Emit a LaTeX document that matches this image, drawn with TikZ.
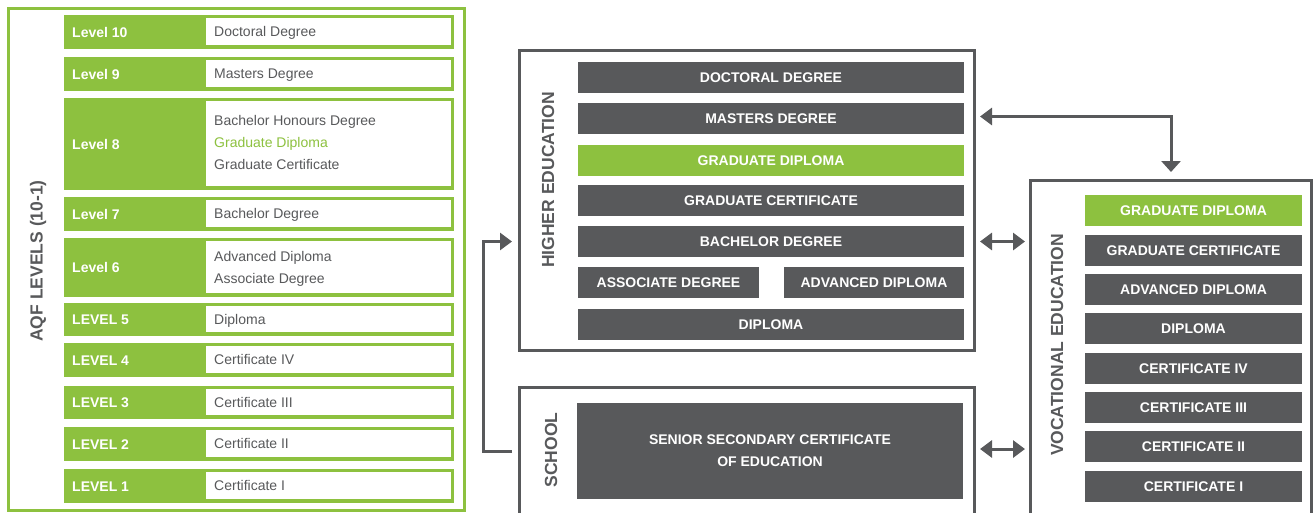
\documentclass[tikz,border=0pt]{standalone}
\usepackage{fontspec}
\setmainfont{Liberation Sans}
\usetikzlibrary{arrows.meta}
\definecolor{aqfgreen}{RGB}{141,193,63}
\definecolor{aqfgray}{RGB}{88,89,91}
\begin{document}
\begin{tikzpicture}[x=1pt,y=-1pt,
 lvrow/.style={fill=aqfgreen, draw=none, anchor=north west, inner sep=0pt, outer sep=0pt, minimum width=390pt},
 lvwhite/.style={fill=white, draw=none, anchor=north west, inner sep=0pt, outer sep=0pt, minimum width=245pt},
 lvlabel/.style={anchor=west, inner sep=0pt, text=white, text height=10pt, text depth=0pt, font=\fontsize{14}{16}\selectfont\bfseries},
 qtext/.style={anchor=west, inner sep=0pt, text=aqfgray, text height=10pt, text depth=0pt, font=\fontsize{14}{22}\selectfont},
 qtextm/.style={anchor=west, inner sep=0pt, text=aqfgray, align=left, font=\fontsize{14}{22}\selectfont},
 bar/.style={fill=aqfgray, anchor=north west, inner sep=0pt, outer sep=0pt, text=white, minimum height=31pt, font=\fontsize{14}{22}\selectfont\bfseries, align=center},
 gbar/.style={bar, fill=aqfgreen},
 frame/.style={draw=aqfgray, line width=3pt, anchor=north west, inner sep=0pt, outer sep=0pt},
 side/.style={rotate=90, text=aqfgray, font=\fontsize{17.5}{20}\selectfont\bfseries, inner sep=0pt},
 conn/.style={draw=aqfgray, line width=3pt},
 tipA/.tip={Triangle[length=12pt,width=17pt]}
]
\useasboundingbox (0,0) rectangle (1314,512);
\clip (0,0) rectangle (1314,512);

% ---------------- AQF levels panel ----------------
\node[draw=aqfgreen, line width=3pt, anchor=north west, inner sep=0pt, outer sep=0pt,
      minimum width=456pt, minimum height=501.5pt] (aqf) at (8.5,8.5) {};
\node[side] (aqflab) at (38,261) {AQF LEVELS (10-1)};

% rows: green band + white inset
\node[lvrow, minimum height=34pt] (r10) at (64,15) {};
\node[lvwhite, minimum height=27pt] (w10) at (206,18) {};
\node[lvlabel] (l10) at ([xshift=8pt]r10.west) {Level 10};
\node[qtext] (q10) at ([xshift=8pt]w10.west) {Doctoral Degree};

\node[lvrow, minimum height=34pt] (r9) at (64,57) {};
\node[lvwhite, minimum height=27pt] (w9) at (206,60) {};
\node[lvlabel] (l9) at ([xshift=8pt]r9.west) {Level 9};
\node[qtext] (q9) at ([xshift=8pt]w9.west) {Masters Degree};

\node[lvrow, minimum height=92pt] (r8) at (64,98) {};
\node[lvwhite, minimum height=85pt] (w8) at (206,101) {};
\node[lvlabel] (l8) at ([xshift=8pt]r8.west) {Level 8};
\node[qtextm] (q8) at ([xshift=8pt,yshift=1pt]w8.west) {Bachelor Honours Degree\\\textcolor{aqfgreen}{Graduate Diploma}\\Graduate Certificate};

\node[lvrow, minimum height=34pt] (r7) at (64,197) {};
\node[lvwhite, minimum height=27pt] (w7) at (206,200) {};
\node[lvlabel] (l7) at ([xshift=8pt]r7.west) {Level 7};
\node[qtext] (q7) at ([xshift=8pt]w7.west) {Bachelor Degree};

\node[lvrow, minimum height=59pt] (r6) at (64,238) {};
\node[lvwhite, minimum height=52pt] (w6) at (206,241) {};
\node[lvlabel] (l6) at ([xshift=8pt]r6.west) {Level 6};
\node[qtextm] (q6) at ([xshift=8pt,yshift=-2pt]w6.west) {Advanced Diploma\\Associate Degree};

\node[lvrow, minimum height=33pt] (r5) at (64,303) {};
\node[lvwhite, minimum height=26pt] (w5) at (206,306) {};
\node[lvlabel] (l5) at ([xshift=8pt]r5.west) {LEVEL 5};
\node[qtext] (q5) at ([xshift=8pt]w5.west) {Diploma};

\node[lvrow, minimum height=34pt] (r4) at (64,343) {};
\node[lvwhite, minimum height=27pt] (w4) at (206,346) {};
\node[lvlabel] (l4) at ([xshift=8pt]r4.west) {LEVEL 4};
\node[qtext] (q4) at ([xshift=8pt]w4.west) {Certificate IV};

\node[lvrow, minimum height=33pt] (r3) at (64,386) {};
\node[lvwhite, minimum height=26pt] (w3) at (206,389) {};
\node[lvlabel] (l3) at ([xshift=8pt]r3.west) {LEVEL 3};
\node[qtext] (q3) at ([xshift=8pt]w3.west) {Certificate III};

\node[lvrow, minimum height=34pt] (r2) at (64,427) {};
\node[lvwhite, minimum height=27pt] (w2) at (206,430) {};
\node[lvlabel] (l2) at ([xshift=8pt]r2.west) {LEVEL 2};
\node[qtext] (q2) at ([xshift=8pt]w2.west) {Certificate II};

\node[lvrow, minimum height=34pt] (r1) at (64,469) {};
\node[lvwhite, minimum height=27pt] (w1) at (206,472) {};
\node[lvlabel] (l1) at ([xshift=8pt]r1.west) {LEVEL 1};
\node[qtext] (q1) at ([xshift=8pt]w1.west) {Certificate I};

% ---------------- Higher education ----------------
\node[frame, minimum width=455pt, minimum height=300pt] (heb) at (519.5,50.5) {};
\node[side] (heblab) at (548,180) {HIGHER EDUCATION};
\node[bar, minimum width=386pt] (hdoc) at (578,62) {DOCTORAL DEGREE};
\node[bar, minimum width=386pt] (hmas) at (578,103) {MASTERS DEGREE};
\node[gbar, minimum width=386pt] (hgd) at (578,145) {GRADUATE DIPLOMA};
\node[bar, minimum width=386pt] (hgc) at (578,185) {GRADUATE CERTIFICATE};
\node[bar, minimum width=386pt] (hbach) at (578,226) {BACHELOR DEGREE};
\node[bar, minimum width=181pt] (hass) at (578,267) {ASSOCIATE DEGREE};
\node[bar, minimum width=180pt] (hadv) at (784,267) {ADVANCED DIPLOMA};
\node[bar, minimum width=386pt] (hdip) at (578,309) {DIPLOMA};

% ---------------- School ----------------
\node[frame, minimum width=455pt, minimum height=127pt] (sch) at (519.5,387.5) {};
\node[side] (schlab) at (551,450) {SCHOOL};
\node[bar, minimum width=386pt, minimum height=96pt] (ssce) at (577,403) {SENIOR SECONDARY CERTIFICATE\\OF EDUCATION};

% ---------------- Vocational education ----------------
\node[frame, minimum width=281pt, minimum height=336pt] (voc) at (1030.5,180.5) {};
\node[side] (voclab) at (1057,345) {VOCATIONAL EDUCATION};
\node[gbar, minimum width=217pt] (vgd) at (1085,195) {GRADUATE DIPLOMA};
\node[bar, minimum width=217pt] (vgc) at (1085,235) {GRADUATE CERTIFICATE};
\node[bar, minimum width=217pt] (vadv) at (1085,274) {ADVANCED DIPLOMA};
\node[bar, minimum width=217pt] (vdip) at (1085,313) {DIPLOMA};
\node[bar, minimum width=217pt] (vc4) at (1085,353) {CERTIFICATE IV};
\node[bar, minimum width=217pt] (vc3) at (1085,392) {CERTIFICATE III};
\node[bar, minimum width=217pt] (vc2) at (1085,431) {CERTIFICATE II};
\node[bar, minimum width=217pt] (vc1) at (1085,471) {CERTIFICATE I};

% ---------------- Connectors ----------------
\draw[conn, -tipA] ([xshift=-7.5pt]sch.west) -- ++(-29,0) |- ([xshift=-7.5pt]heb.west |- hbach.center);
\draw[conn, tipA-{Triangle[length=11pt,width=19pt]}] ([xshift=5.5pt,yshift=2pt]heb.east |- hmas.center) -| ([yshift=8.5pt]voc.north);
\draw[conn, tipA-tipA] ([xshift=5.5pt]heb.east |- hbach.center) -- ([xshift=-5.5pt]voc.west |- hbach.center);
\draw[conn, tipA-tipA] ([xshift=5.5pt,yshift=2pt]sch.east) -- ([xshift=-5.5pt,yshift=2pt]voc.west |- sch.east);
\end{tikzpicture}
\end{document}
